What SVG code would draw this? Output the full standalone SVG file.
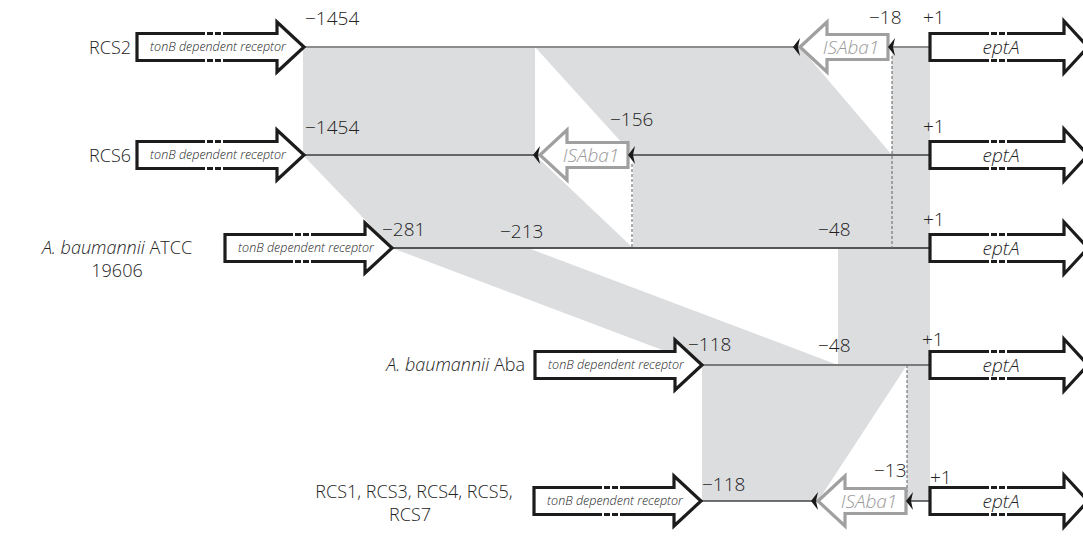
<svg xmlns="http://www.w3.org/2000/svg" width="1083" height="537" viewBox="0 0 1083 537">
<style>
text{font-family:"Open Sans","Liberation Sans",sans-serif;fill:#222;font-weight:300}
.lab{font-size:18px}
.num{font-size:19px}
.gene{font-size:12.5px;font-style:italic;text-anchor:middle}
.ept{font-size:19px;font-style:italic;text-anchor:middle}
.is{font-size:19px;font-style:italic;fill:#9a9a9a;text-anchor:middle}
.arr{fill:#fff;stroke:#1c1c1c;stroke-width:3.2;stroke-linejoin:miter}
.isa{fill:#fff;stroke:#a0a0a0;stroke-width:3.2;stroke-linejoin:miter}
.shade{fill:#dcdddf}
.dash{stroke:#777;stroke-width:1.2;stroke-dasharray:3 2;fill:none}
.gap{fill:#fff}
.mk{fill:#1a1a1a}
</style>
<defs>
<path id="tonB" d="M0,-13.5 H140 V-25 L167,0 L140,25 V13.5 H0 Z"/>
<path id="ept" d="M0,-13.5 H134 V-26 L158,0 L134,26 V13.5 H0 Z"/>
<path id="isa" d="M0,0 L27,-25 V-12.5 H88 V12.5 H27 V25 Z"/>
<path id="mark" d="M0,0 L7,-9 L5,0 L7,9 Z"/>
<g id="brk">
<rect x="0" y="-16" width="2" height="5" class="gap"/>
<rect x="8" y="-16" width="2" height="5" class="gap"/>
<rect x="16" y="-16" width="2" height="5" class="gap"/>
<rect x="0" y="11" width="2" height="5" class="gap"/>
<rect x="8" y="11" width="2" height="5" class="gap"/>
<rect x="16" y="11" width="2" height="5" class="gap"/>
</g>
</defs>

<g id="shading">
<polygon class="shade" points="303,47 535,47 535,155 303,155"/>
<polygon class="shade" points="535,47 800,47 892,155 633,155"/>
<polygon class="shade" points="892,47 930,47 930,248 892,248"/>
<polygon class="shade" points="303,155 535,155 633,248 392,248"/>
<polygon class="shade" points="633,155 892,155 892,248 633,248"/>
<polygon class="shade" points="392,248 528,248 838,365 702,365"/>
<polygon class="shade" points="838,248 930,248 930,365 838,365"/>
<polygon class="shade" points="702,365 907,365 818,501 702,501"/>
<polygon class="shade" points="907,365 930,365 930,501 907,501"/>
</g>

<g id="connectors">
<line x1="303" y1="47" x2="930" y2="47" stroke="#8c8c8c" stroke-width="2"/>
<line x1="303" y1="155" x2="930" y2="155" stroke="#3c3c3c" stroke-width="1.6"/>
<line x1="392" y1="248" x2="930" y2="248" stroke="#555" stroke-width="1.8"/>
<line x1="702" y1="365" x2="930" y2="365" stroke="#7a7a7a" stroke-width="2"/>
<line x1="701" y1="501" x2="930" y2="501" stroke="#444" stroke-width="1.6"/>
<line class="dash" x1="892" y1="56" x2="892" y2="248"/>
<line class="dash" x1="632" y1="164" x2="632" y2="248"/>
<line class="dash" x1="907" y1="365" x2="907" y2="492"/>
</g>

<g id="row-RCS2">
<text class="lab" x="131" y="54" text-anchor="end">RCS2</text>
<use href="#tonB" class="arr" transform="translate(137,47)"/>
<use href="#brk" transform="translate(205,47)"/>
<text class="gene" x="218" y="51">tonB dependent receptor</text>
<text class="num" x="305" y="25">−1454</text>
<use href="#isa" class="isa" transform="translate(800,47)"/>
<text class="is" x="851" y="54">ISAba1</text>
<use href="#mark" class="mk" transform="translate(793,47)"/>
<use href="#mark" class="mk" transform="translate(888,47)"/>
<text class="num" x="869" y="24">−18</text>
<text class="num" x="923" y="24">+1</text>
<use href="#ept" class="arr" transform="translate(930,47)"/>
<use href="#brk" transform="translate(989,47)"/>
<text class="ept" x="1001" y="54">eptA</text>
</g>

<g id="row-RCS6">
<text class="lab" x="131" y="162" text-anchor="end">RCS6</text>
<use href="#tonB" class="arr" transform="translate(137,155)"/>
<use href="#brk" transform="translate(205,155)"/>
<text class="gene" x="218" y="159">tonB dependent receptor</text>
<text class="num" x="305" y="134">−1454</text>
<use href="#isa" class="isa" transform="translate(540,155)"/>
<text class="is" x="591" y="162">ISAba1</text>
<use href="#mark" class="mk" transform="translate(533,155)"/>
<use href="#mark" class="mk" transform="translate(628,155)"/>
<text class="num" x="610" y="126">−156</text>
<text class="num" x="923" y="133">+1</text>
<use href="#ept" class="arr" transform="translate(930,155)"/>
<use href="#brk" transform="translate(989,155)"/>
<text class="ept" x="1001" y="162">eptA</text>
</g>

<g id="row-ATCC">
<text class="lab" x="117" y="254" text-anchor="middle"><tspan font-style="italic">A. baumannii</tspan> ATCC</text>
<text class="lab" x="117" y="277" text-anchor="middle">19606</text>
<use href="#tonB" class="arr" transform="translate(225,248)"/>
<use href="#brk" transform="translate(293,248)"/>
<text class="gene" x="306" y="252">tonB dependent receptor</text>
<text class="num" x="382" y="236">−281</text>
<text class="num" x="500" y="238">−213</text>
<text class="num" x="818" y="236">−48</text>
<text class="num" x="923" y="226">+1</text>
<use href="#ept" class="arr" transform="translate(930,248)"/>
<use href="#brk" transform="translate(989,248)"/>
<text class="ept" x="1001" y="255">eptA</text>
</g>

<g id="row-Aba">
<text class="lab" x="525" y="371" text-anchor="end"><tspan font-style="italic">A. baumannii</tspan> Aba</text>
<use href="#tonB" class="arr" transform="translate(535,365)"/>
<text class="gene" x="616" y="369">tonB dependent receptor</text>
<text class="num" x="688" y="351">−118</text>
<text class="num" x="818" y="352">−48</text>
<text class="num" x="922" y="346">+1</text>
<use href="#ept" class="arr" transform="translate(930,365)"/>
<use href="#brk" transform="translate(989,365)"/>
<text class="ept" x="1001" y="372">eptA</text>
</g>

<g id="row-RCS1">
<text class="lab" x="414" y="498" text-anchor="middle">RCS1, RCS3, RCS4, RCS5,</text>
<text class="lab" x="410" y="521" text-anchor="middle">RCS7</text>
<use href="#tonB" class="arr" transform="translate(534,501)"/>
<use href="#brk" transform="translate(602,501)"/>
<text class="gene" x="615" y="505">tonB dependent receptor</text>
<text class="num" x="702" y="491">−118</text>
<use href="#isa" class="isa" transform="translate(818,501)"/>
<text class="is" x="869" y="508">ISAba1</text>
<use href="#mark" class="mk" transform="translate(811,501)"/>
<use href="#mark" class="mk" transform="translate(906,501)"/>
<text class="num" x="874" y="477">−13</text>
<text class="num" x="930" y="484">+1</text>
<use href="#ept" class="arr" transform="translate(930,501)"/>
<use href="#brk" transform="translate(989,501)"/>
<text class="ept" x="1001" y="508">eptA</text>
</g>
</svg>
